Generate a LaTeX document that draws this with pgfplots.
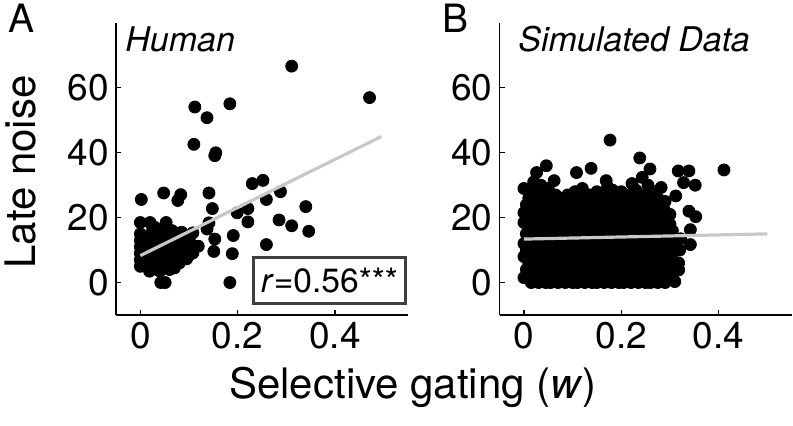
\documentclass[border=0pt]{standalone}
\usepackage{pgfplots}
\pgfplotsset{compat=1.18}
\usepackage{fontspec}
\setmainfont{TeX Gyre Heros}
\definecolor{fitgray}{RGB}{200,200,200}
\definecolor{boxgray}{RGB}{64,64,64}

\pgfplotsset{
  panel/.style={
    scale only axis, width=146pt, height=146pt,
    anchor=south west,
    xmin=-0.05, xmax=0.55, ymin=-10, ymax=80,
    axis x line*=bottom, axis y line*=left,
    xtick={0,0.2,0.4}, ytick={0,20,40,60},
    tick align=inside, major tick length=2.5pt,
    tick style={black, line width=0.6pt},
    axis line style={black, line width=0.7pt},
    ticklabel style={font=\fontsize{18.5}{20}\selectfont},
    /pgf/number format/assume math mode=true,
    clip=false, clip marker paths=true,
  },
  dots/.style={only marks, mark=*, mark size=3pt, black},
  fit/.style={no marks, fitgray, line width=1.6pt},
}

\begin{document}
\begin{tikzpicture}
\path[use as bounding box] (0,0) rectangle (396.5pt,213pt);

% A: human participants
\begin{axis}[panel, at={(58pt,55.5pt)}]
\addplot[dots] coordinates {
(0.311,66.7) (0.471,57) (0.184,55.1) (0.112,54.1) (0.137,50.8) (0.110,42.6)
(0.155,40.0) (0.153,39.1) (0.230,30.5) (0.252,31.5) (0.288,28) (0.141,27.6)
(0.148,22.8) (0.259,25.6) (0.221,22.8) (0.199,21.5) (0.340,23.4) (0.285,19.3)
(0.221,18.7) (0.311,17.5) (0.346,15.8) (0.141,18.4) (0.137,16.5) (0.191,14.5)
(0.153,13.4) (0.259,11.7) (0.151,9.6) (0.189,8.9) (0.119,11.2) (0.108,15.3)
(0.108,9.1) (0.095,7.3) (0.100,8.4) (0.101,12.7) (0.184,0) (0.042,0) (0.051,0)
(0.002,25.6) (0.048,27.6) (0.077,25.3) (0.083,27.1) (0,18.5) (0.053,18.5)
(0,5) (0,7) (0,9) (0,11) (0,13) (0,15) (0.005,8) (0.01,6) (0.01,10) (0.01,12)
(0.015,14) (0.02,4) (0.02,7) (0.02,9) (0.025,11) (0.025,16) (0.03,6) (0.03,13)
(0.035,8) (0.035,10) (0.04,3.5) (0.04,12) (0.04,15) (0.045,6) (0.045,9)
(0.05,11) (0.05,13) (0.055,5) (0.055,8) (0.06,10) (0.06,14) (0.065,7) (0.065,12)
(0.07,4.5) (0.07,9) (0.075,11) (0.075,15) (0.08,6) (0.08,13) (0.085,8) (0.09,10)
(0.09,12) (0.095,14) (0.03,17) (0.05,17) (0.06,4) (0.019,3.5) (0.1,11) (0.02,18.5)
(0.045,14.5) (0.065,16) (0.035,4.5) (0.085,15.5)
};
\addplot[fit] coordinates {(0,8.3) (0.495,45)};
\node[draw=boxgray, line width=1.5pt, fill=white, minimum width=76pt,
  minimum height=23pt, inner sep=0pt, font=\fontsize{16.8}{20}\selectfont]
  at (axis cs:0.3885,0.5) {\textit{r}=0.56***};
\end{axis}

% B: simulated data
\begin{axis}[panel, at={(249.8pt,55.5pt)}]
\addplot[dots] coordinates {
(0.000,1.5) (0.000,8) (0.000,12) (0.000,18.5) (0.000,21.5) (0.000,29)
(0.005,4) (0.005,10) (0.005,15) (0.005,24)
(0.010,2) (0.010,6) (0.010,13) (0.010,17) (0.010,20) (0.010,26)
(0.015,0) (0.015,9) (0.015,11) (0.015,22) (0.015,27.5)
(0.020,3) (0.020,7) (0.020,14) (0.020,19) (0.020,24) (0.020,31)
(0.025,1) (0.025,5) (0.025,10) (0.025,16) (0.025,21) (0.025,28) (0.026,33.9)
(0.030,0) (0.030,4) (0.030,8) (0.030,12) (0.030,18) (0.030,23) (0.030,26)
(0.035,2) (0.035,6) (0.035,11) (0.035,15) (0.035,20) (0.035,25) (0.035,30)
(0.040,1) (0.040,3) (0.040,9) (0.040,13) (0.040,17) (0.040,22) (0.040,27)
(0.045,0) (0.045,5) (0.045,10) (0.045,14) (0.045,19) (0.045,24) (0.046,36)
(0.050,2) (0.050,7) (0.050,12) (0.050,16) (0.050,21) (0.050,26) (0.050,29)
(0.055,0) (0.055,4) (0.055,8) (0.055,13) (0.055,18) (0.055,23)
(0.060,1) (0.060,6) (0.060,11) (0.060,15) (0.060,20) (0.060,25) (0.062,31.4)
(0.065,3) (0.065,9) (0.065,14) (0.065,17) (0.065,22) (0.065,27)
(0.070,0) (0.070,5) (0.070,10) (0.070,13) (0.070,19) (0.070,24)
(0.075,2) (0.075,7) (0.075,12) (0.075,16) (0.075,21) (0.075,26)
(0.080,1) (0.080,4) (0.080,9) (0.080,15) (0.080,18) (0.080,23)
(0.085,0) (0.085,6) (0.085,11) (0.085,14) (0.085,20) (0.085,25)
(0.090,3) (0.090,8) (0.090,13) (0.090,17) (0.090,22) (0.090,27)
(0.095,1) (0.095,5) (0.095,10) (0.095,16) (0.095,19) (0.095,24)
(0.100,0) (0.100,7) (0.100,12) (0.100,15) (0.100,21) (0.100,26)
(0.105,2) (0.105,4) (0.105,9) (0.105,14) (0.105,18) (0.105,23) (0.105,28)
(0.110,0) (0.110,6) (0.110,11) (0.110,17) (0.110,20) (0.108,33.9)
(0.115,3) (0.115,8) (0.115,13) (0.115,16) (0.115,22) (0.115,25)
(0.120,1) (0.120,5) (0.120,10) (0.120,15) (0.120,19) (0.120,24) (0.120,29)
(0.125,0) (0.125,7) (0.125,12) (0.125,14) (0.125,21) (0.125,26)
(0.130,2) (0.130,4) (0.130,9) (0.130,17) (0.130,18) (0.130,23)
(0.135,1) (0.135,6) (0.135,11) (0.135,16) (0.135,20) (0.135,27) (0.138,35.2)
(0.140,0) (0.140,3) (0.140,8) (0.140,13) (0.140,22) (0.140,25)
(0.145,2) (0.145,5) (0.145,10) (0.145,15) (0.145,19) (0.145,24)
(0.150,0) (0.150,7) (0.150,12) (0.150,14) (0.150,21) (0.150,28)
(0.155,1) (0.155,4) (0.155,9) (0.155,16) (0.155,18) (0.155,23)
(0.160,3) (0.160,6) (0.160,11) (0.160,17) (0.160,20) (0.160,26)
(0.165,0) (0.165,8) (0.165,13) (0.165,15) (0.165,22) (0.165,25) (0.169,31.4)
(0.170,2) (0.170,5) (0.170,10) (0.170,14) (0.170,19) (0.170,24) (0.172,29.5)
(0.175,1) (0.175,7) (0.175,12) (0.175,16) (0.175,21) (0.175,27) (0.177,43.9)
(0.180,0) (0.180,4) (0.180,9) (0.180,18) (0.180,23) (0.182,28.5)
(0.185,3) (0.185,6) (0.185,11) (0.185,15) (0.185,20) (0.185,25)
(0.190,1) (0.190,8) (0.190,13) (0.190,17) (0.190,22) (0.190,26)
(0.195,0) (0.195,5) (0.195,10) (0.195,14) (0.195,19) (0.195,24)
(0.200,2) (0.200,7) (0.200,12) (0.200,16) (0.200,21) (0.200,28)
(0.205,0) (0.205,4) (0.205,9) (0.205,15) (0.205,18) (0.205,23)
(0.210,3) (0.210,6) (0.210,11) (0.210,17) (0.210,20) (0.210,25)
(0.215,1) (0.215,8) (0.215,13) (0.215,14) (0.215,22) (0.215,27)
(0.220,0) (0.220,5) (0.220,10) (0.220,16) (0.220,19) (0.220,24) (0.222,30.5)
(0.225,2) (0.225,7) (0.225,12) (0.225,15) (0.225,21) (0.225,26)
(0.230,1) (0.230,4) (0.230,9) (0.230,18) (0.230,23) (0.230,28.5)
(0.235,0) (0.235,6) (0.235,11) (0.235,14) (0.235,20) (0.235,25) (0.238,38.4)
(0.240,3) (0.240,8) (0.240,13) (0.240,17) (0.240,22) (0.240,27)
(0.245,1) (0.245,5) (0.245,10) (0.245,16) (0.245,19) (0.245,24) (0.243,32.4)
(0.250,0) (0.250,7) (0.250,12) (0.250,15) (0.250,21) (0.250,26)
(0.255,2) (0.255,4) (0.255,9) (0.255,14) (0.255,18) (0.255,23) (0.255,30)
(0.260,0) (0.260,6) (0.260,11) (0.260,17) (0.260,20) (0.260,27) (0.259,35)
(0.265,3) (0.265,8) (0.265,13) (0.265,16) (0.265,22) (0.265,25)
(0.270,1) (0.270,5) (0.270,10) (0.270,15) (0.270,19) (0.270,24) (0.270,28)
(0.275,0) (0.275,7) (0.275,12) (0.275,14) (0.275,21) (0.275,26)
(0.280,2) (0.280,4) (0.280,9) (0.280,17) (0.280,18) (0.282,29.3)
(0.285,1) (0.285,6) (0.285,11) (0.285,16) (0.285,20) (0.285,23)
(0.290,0) (0.290,8) (0.290,13) (0.290,15) (0.290,22) (0.290,25)
(0.295,3) (0.295,5) (0.295,10) (0.295,14) (0.295,19)
(0.300,1) (0.300,7) (0.300,12) (0.300,18) (0.300,21)
(0.305,2) (0.305,4) (0.305,9) (0.305,13) (0.305,16)
(0.310,0.3) (0.310,6) (0.310,11) (0.312,26.7)
(0.317,34.4) (0.318,6) (0.318,3.9) (0.320,10) (0.322,13.5)
(0.328,30.8) (0.339,34.4) (0.339,22) (0.353,20.3) (0.352,30)
(0.342,16.3) (0.342,11.7) (0.411,34.7)
};
\addplot[fit] coordinates {(0,13.4) (0.5,15)};
\end{axis}

\begin{scope}[every node/.style={inner sep=0pt}]
\node[anchor=base west, font=\fontsize{19.5}{22}\selectfont] at (4pt,196.5pt) {A};
\node[anchor=base west, font=\fontsize{19.5}{22}\selectfont] at (221pt,196.5pt) {B};
\node[anchor=base west, font=\fontsize{17}{20}\selectfont\itshape] at (62.5pt,187pt) {Human};
\node[anchor=base west, font=\fontsize{17}{20}\selectfont\itshape] at (259pt,187pt) {Simulated Data};
\node[anchor=base, rotate=90, font=\fontsize{21}{24}\selectfont] at (17.5pt,127pt) {Late noise};
\node[anchor=base, font=\fontsize{21}{24}\selectfont] at (206.5pt,13.5pt) {Selective gating (\textit{w})};
\end{scope}
\end{tikzpicture}
\end{document}
